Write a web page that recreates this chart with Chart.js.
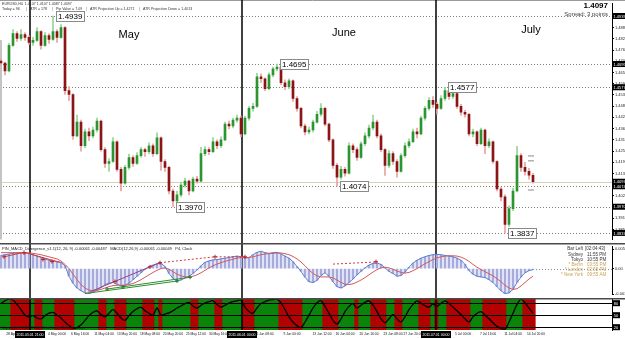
<!DOCTYPE html>
<html>
<head>
<meta charset="utf-8">
<script src="https://cdn.jsdelivr.net/npm/chart.js@4.4.1/dist/chart.umd.min.js"></script>
<style>
  html, body { margin: 0; padding: 0; background: #fff; }
  #wrap { position: relative; width: 625px; height: 339px; overflow: hidden; background: #fff; }
  canvas { position: absolute; left: 0; }
</style>
</head>
<body>
<div id="wrap">
  <canvas id="cPrice" width="625" height="243" style="top:0"></canvas>
  <canvas id="cMacd" width="625" height="55" style="top:243px"></canvas>
  <canvas id="cOsc" width="625" height="41" style="top:298px"></canvas>
</div>
<script>
// ---- EURUSD H4 candles, in pips: 4939 -> 1.4939 ----
const opens = [4710,4700,4660,4790,4850,4825,4845,4830,4805,4815,
  4860,4790,4840,4820,4860,4830,4880,4560,4540,4330,
  4400,4280,4350,4330,4360,4405,4260,4190,4200,4300,
  4160,4090,4170,4220,4190,4230,4260,4250,4280,4240,
  4320,4200,4170,4050,4000,4030,4080,4100,4050,4110,
  4100,4240,4260,4250,4300,4280,4310,4390,4380,4410,
  4420,4340,4420,4470,4480,4630,4620,4570,4640,4670,
  4680,4600,4580,4610,4520,4470,4380,4350,4360,4400,
  4440,4470,4390,4310,4180,4120,4160,4140,4280,4260,
  4220,4290,4330,4370,4400,4330,4260,4180,4240,4200,
  4150,4230,4280,4300,4350,4340,4420,4470,4510,4490,
  4470,4520,4560,4530,4545,4480,4450,4440,4340,4350,
  4290,4360,4280,4300,4200,4060,4020,3880,3960,4050,
  4230,4170,4150,4130];
const highs = [4720,4705,4800,4870,4860,4870,4855,4840,4830,4880,
  4865,4855,4850,4939,4870,4895,4885,4580,4545,4435,
  4410,4365,4370,4375,4420,4410,4270,4215,4321,4305,
  4170,4180,4238,4230,4245,4272,4268,4295,4290,4346,
  4325,4210,4175,4060,4050,4095,4115,4105,4120,4125,
  4272,4275,4270,4321,4310,4325,4400,4405,4420,4435,
  4430,4430,4480,4495,4648,4645,4625,4650,4680,4695,
  4685,4615,4620,4615,4530,4475,4390,4375,4410,4455,
  4494,4475,4395,4315,4190,4175,4170,4295,4290,4270,
  4300,4345,4385,4435,4410,4340,4265,4255,4250,4210,
  4240,4295,4315,4365,4370,4430,4480,4525,4530,4500,
  4535,4577,4565,4560,4550,4490,4460,4445,4365,4355,
  4370,4365,4315,4305,4205,4070,4030,3975,4065,4277,
  4240,4195,4165,4140];
const lows = [4690,4640,4655,4785,4810,4815,4815,4795,4790,4810,
  4770,4785,4800,4815,4805,4825,4540,4509,4312,4325,
  4252,4270,4305,4320,4350,4252,4170,4149,4195,4150,
  4050,4085,4160,4175,4185,4220,4225,4240,4225,4235,
  4154,4150,4035,3970,3990,4020,4070,4030,4045,4090,
  4095,4230,4235,4245,4265,4270,4305,4365,4370,4400,
  4326,4335,4410,4455,4475,4600,4559,4565,4630,4660,
  4590,4565,4570,4505,4455,4370,4335,4340,4350,4395,
  4430,4380,4300,4165,4074,4110,4125,4135,4245,4205,
  4215,4280,4320,4360,4320,4250,4129,4170,4185,4120,
  4145,4220,4270,4295,4320,4335,4410,4460,4475,4440,
  4465,4510,4515,4520,4470,4435,4425,4330,4325,4280,
  4285,4240,4270,4190,4050,4000,3837,3870,3950,4045,
  4150,4130,4110,4090];
const closes = [4700,4660,4790,4850,4825,4845,4830,4805,4815,4860,
  4790,4840,4820,4860,4830,4880,4560,4540,4330,4400,
  4280,4350,4330,4360,4405,4260,4190,4200,4300,4160,
  4090,4170,4220,4190,4230,4260,4250,4280,4240,4320,
  4200,4170,4050,4000,4030,4080,4100,4050,4110,4100,
  4240,4260,4250,4300,4280,4310,4390,4380,4410,4420,
  4340,4420,4470,4480,4630,4620,4570,4640,4670,4680,
  4600,4580,4610,4520,4470,4380,4350,4360,4400,4440,
  4470,4390,4310,4180,4120,4160,4140,4280,4260,4220,
  4290,4330,4370,4400,4330,4260,4180,4240,4200,4150,
  4230,4280,4300,4350,4340,4420,4470,4510,4490,4470,
  4520,4560,4530,4545,4480,4450,4440,4340,4350,4290,
  4360,4280,4300,4200,4060,4020,3880,3960,4050,4230,
  4170,4150,4130,4097];

const priceTicks = [1.4880, 1.4823, 1.4766, 1.4709, 1.4652, 1.4595, 1.4538, 1.4481, 1.4424,
  1.4367, 1.4310, 1.4253, 1.4196, 1.4139, 1.4082, 1.4025, 1.3911, 1.3854];
const swingLevels = [1.4939, 1.4695, 1.4577, 1.4074, 1.3970, 1.3837];
const swingIdx = [13, 69, 111, 84, 43, 126];
const lastPrice = 1.4097;
const atrMarks = [1.4228, 1.4203, 1.4055];
const months = ['May', 'June', 'July'];
const monthSepIdx = [7.25, 60.25, 108.75];
const monthStamps = ['2011.05.01 21:00', '2011.06.01 00:00', '2011.07.01 00:00'];

// ---- MACD panel, in units of 0.0001 ----
const macdHist = [38,40,42,44,45,46,46,44,40,36,
  32,28,24,22,20,18,8,-22,-42,-56,
  -64,-70,-72,-68,-62,-55,-46,-42,-40,-45,
  -50,-48,-42,-32,-22,-12,-2,5,10,14,
  15,6,-14,-28,-35,-33,-27,-22,-14,-4,
  8,18,22,25,26,28,30,32,34,36,
  34,30,32,40,47,50,46,44,46,47,
  42,36,30,20,6,-8,-25,-38,-40,-34,
  -20,-12,-22,-38,-52,-56,-50,-40,-30,-18,
  -8,2,10,15,16,12,2,-8,-14,-22,
  -20,-10,4,16,24,30,34,38,40,41,
  40,38,36,34,30,24,12,-6,-16,-22,
  -24,-26,-32,-40,-52,-64,-72,-70,-60,-40,
  -24,-12,-6,-3];
const macdSignal = [46,46,46,46,46,46,46,45,44,42,
  40,37,34,31,28,22,12,0,-16,-32,
  -46,-56,-62,-64,-63,-60,-56,-52,-49,-48,
  -48,-48,-46,-43,-38,-32,-25,-18,-11,-5,
  0,2,-2,-9,-16,-21,-24,-24,-22,-18,
  -12,-5,2,8,13,17,21,24,27,30,
  32,32,32,34,37,40,42,43,44,45,
  45,43,40,35,28,19,8,-4,-14,-21,
  -24,-24,-24,-27,-33,-40,-45,-46,-44,-39,
  -33,-26,-18,-10,-3,2,4,2,-2,-7,
  -11,-13,-11,-6,0,7,14,20,26,31,
  34,36,37,37,36,33,28,21,12,4,
  -3,-9,-15,-21,-29,-38,-48,-56,-60,-58,
  -50,-40,-30,-22];
const macdAxisVals = [55.7, 0, -73.4];
const macdAxisText = ['0.00557', '0.00', '-0.00734'];
const divGreenA = [{x: 21, y: -72}, {x: 44, y: -36}];
const divGreenB = [{x: 26.5, y: -59}, {x: 47.25, y: -25}];
const divPurple = [{x: 22.25, y: -67}, {x: 39.75, y: 17}];
const divRedDot = [{x: 39.75, y: 17}, {x: 53.5, y: 34}, {x: 61, y: 34}];
const divRedTop = [{x: 0.75, y: 34}, {x: 5.75, y: 47}, {x: 14.75, y: 18}];
const divRedJun = [{x: 83, y: 13}, {x: 93.75, y: 19}];
const divGreenMarks = [{x: 26.5, y: -59}, {x: 30.5, y: -53}, {x: 44, y: -36}, {x: 47.25, y: -25}];
const divRedMarks = [{x: 0.75, y: 34}, {x: 5.75, y: 45}, {x: 10.5, y: 26}, {x: 12.75, y: 20},
  {x: 28.5, y: -37}, {x: 37.25, y: 5}, {x: 39.75, y: 17}, {x: 53.5, y: 34}, {x: 61, y: 34}, {x: 93.75, y: 20}];
const clockRows = [['Sydney', '11:55 PM'], ['Tokyo', '10:55 PM'], ['* Berlin', '03:55 PM'],
  ['* London', '02:55 PM'], ['* New York', '09:55 AM']];

// ---- bottom oscillator ----
const oscValues = [79,86,90,88,77,64,50,46,49,43,
  41,49,55,57,50,43,33,24,18,19,
  26,37,49,57,61,52,46,55,64,55,
  43,37,49,59,66,70,61,55,50,68,
  50,53,56,61,68,73,79,82,73,68,
  75,80,84,86,77,70,75,80,84,86,
  88,70,59,55,68,79,84,88,89,90,
  81,64,46,33,24,19,33,50,68,81,
  86,72,55,37,28,41,59,72,79,68,
  75,82,86,75,59,41,31,41,52,41,
  33,46,64,77,86,80,74,70,78,72,
  80,86,79,70,61,52,41,33,46,55,
  59,50,41,31,22,17,15,33,55,77,
  90,81,68,55];
const oscBands = 'GGGRRRRRGR' + 'RGGGRRRRRG' + 'GGGGGRRGGR' + 'RRGGGGRRRG' + 'RGGGGGGGRR' +
  'GGGGRRGGGG' + 'GRRRGGGGGG' + 'RRRRRRGGGG' + 'GRRRRGGGGR' + 'GGGRRRRGGR' +
  'RGGGGRRRGR' + 'GGRRRRRRGG' + 'GRRRRRRGGG' + 'GRRR';
const oscLevels = [80, 50, 20];

const timeTickIdx = [3.5, 14, 19.75, 25.75, 31.5, 37.25, 43, 48.75, 54.5, 66, 72.75, 80.25,
  86, 92, 98, 103, 115.5, 121.75, 128, 133.75];
const timeTickLabels = ['28 Apr 2011', '4 May 00:00', '6 May 16:00', '11 May 04:00', '13 May 20:00',
  '18 May 08:00', '20 May 20:00', '25 May 12:00', '30 May 16:00', '6 Jun 08:00', '9 Jun 00:00',
  '13 Jun 12:00', '16 Jun 04:00', '20 Jun 16:00', '23 Jun 08:00', '27 Jun 20:00', '5 Jul 00:00',
  '7 Jul 16:00', '11 Jul 04:00', '14 Jul 20:00'];

// ------------------------------------------------------------
const FONT = '"Liberation Sans", Arial, sans-serif';
Chart.defaults.font.family = FONT;
const px = v => 1 + v / 10000;
const idx = opens.map((_, i) => i);
const isUp = i => closes[i] >= opens[i];
const XMIN = -0.25, XMAX = 152.75;
const xHidden = { type: 'linear', min: XMIN, max: XMAX, offset: false, display: false };
const base = {
  responsive: false, animation: false, devicePixelRatio: 1,
  layout: { padding: 0, autoPadding: false },
  plugins: { legend: { display: false }, tooltip: { enabled: false } }
};

function hline(ctx, x1, x2, y) { ctx.beginPath(); ctx.moveTo(x1, y); ctx.lineTo(x2, y); ctx.stroke(); }
function vline(ctx, x, y1, y2) { ctx.beginPath(); ctx.moveTo(x, y1); ctx.lineTo(x, y2); ctx.stroke(); }
function text(ctx, s, x, y, size, color, align, weight) {
  ctx.font = (weight || '') + ' ' + size + 'px ' + FONT;
  ctx.fillStyle = color; ctx.textAlign = align || 'left'; ctx.textBaseline = 'alphabetic';
  ctx.fillText(s, x, y);
}
function drawSeparators(chart, top, bottom) {
  const ctx = chart.ctx, x = chart.scales.x;
  ctx.save(); ctx.strokeStyle = '#000'; ctx.lineWidth = 1.5;
  monthSepIdx.forEach(v => vline(ctx, Math.round(x.getPixelForValue(v)), top, bottom));
  ctx.restore();
}

// ---------------- price panel ----------------
const priceDecor = {
  id: 'priceDecor',
  beforeDatasetsDraw(chart) {
    const { ctx, chartArea: a, scales: { y } } = chart;
    ctx.save();
    ctx.strokeStyle = '#7c7c7c'; ctx.lineWidth = 1; ctx.setLineDash([1, 2]);
    swingLevels.forEach(v => hline(ctx, a.left, a.right, Math.round(y.getPixelForValue(v)) + 0.5));
    ctx.setLineDash([]);
    ctx.strokeStyle = '#d8d1b2';
    hline(ctx, a.left, a.right, Math.round(y.getPixelForValue(lastPrice)) + 0.5);
    ctx.strokeStyle = '#9a9a9a';
    hline(ctx, 0, 625, 0.5);
    ctx.strokeStyle = '#c4c4c4'; ctx.lineWidth = 2;
    vline(ctx, 1, 40, a.bottom);
    ctx.restore();
    drawSeparators(chart, 0, chart.height);
  },
  afterDraw(chart) {
    const { ctx, chartArea: a, scales: { x, y } } = chart;
    ctx.save();
    // month names
    [[129, 38], [344, 36], [531, 33]].forEach((p, k) => text(ctx, months[k], p[0], p[1], 11, '#000', 'center'));
    // swing labels
    swingLevels.forEach((v, k) => {
      const yy = Math.round(y.getPixelForValue(v));
      const xx = Math.round(x.getPixelForValue(swingIdx[k])) + 3;
      const s = v.toFixed(4);
      ctx.font = '8px ' + FONT;
      const w = Math.ceil(ctx.measureText(s).width) + 3;
      ctx.fillStyle = '#fff'; ctx.fillRect(xx, yy - 5, w, 10);
      ctx.strokeStyle = '#8a8a8a'; ctx.lineWidth = 1; ctx.strokeRect(xx + 0.5, yy - 4.5, w, 10);
      text(ctx, s, xx + 2, yy + 3, 8, '#000');
    });
    // price axis marks
    swingLevels.concat([lastPrice]).forEach(v => {
      const yy = y.getPixelForValue(v);
      ctx.fillStyle = '#000'; ctx.fillRect(a.right + 1, yy - 3, 12, 6);
      text(ctx, v.toFixed(4), a.right + 1.5, yy + 1.6, 4, '#fff');
    });
    // header
    text(ctx, 'EURUSD,H4  1.4107 1.4107 1.4087 1.4097', 2, 4.5, 3.6, '#333');
    text(ctx, 'Today = 96', 2, 9.5, 3.6, '#333');
    text(ctx, 'ATR = 178', 30, 9.5, 3.6, '#333');
    text(ctx, 'Pip Value = 7.09', 56, 9.5, 3.6, '#333');
    text(ctx, 'ATR Projection Up = 1.4271', 90, 9.5, 3.6, '#333');
    text(ctx, 'ATR Projection Down = 1.4013', 143, 9.5, 3.6, '#333');
    [26, 52, 86, 139].forEach(p => text(ctx, '|', p, 9.5, 3.6, '#555'));
    // top right
    text(ctx, lastPrice.toFixed(4), 608, 8, 8, '#000', 'right', 'bold');
    text(ctx, 'Spread: 3 points', 608, 16, 6, '#444', 'right');
    ctx.restore();
  }
};

new Chart(document.getElementById('cPrice'), {
  type: 'bar',
  data: {
    datasets: [
      { label: 'wick', data: idx.map(i => ({ x: i, y: [px(lows[i]), px(highs[i])] })),
        backgroundColor: idx.map(i => isUp(i) ? '#98d498' : '#e4a4a4'),
        barThickness: 1, grouped: false, order: 2 },
      { label: 'body', data: idx.map(i => ({ x: i, y: [px(opens[i]), px(closes[i])] })),
        backgroundColor: idx.map(i => isUp(i) ? '#2a962f' : '#8c1414'),
        barThickness: 2, minBarLength: 1, grouped: false, order: 1 },
      { type: 'line', label: 'atr', data: atrMarks.map(v => ({ x: 132.5, y: v })), showLine: false,
        pointStyle: 'line', pointRadius: 3, borderColor: '#8a8a8a', borderWidth: 1, order: 0 }
    ]
  },
  options: Object.assign({}, base, {
    scales: {
      x: xHidden,
      y: {
        position: 'right', min: 1.3803, max: 1.5003,
        afterFit: a => { a.width = 13; },
        afterBuildTicks: a => { a.ticks = priceTicks.map(v => ({ value: v })); },
        ticks: { autoSkip: false, font: { size: 4 }, color: '#222', padding: 1, callback: v => v.toFixed(4) },
        grid: { drawOnChartArea: false, drawTicks: true, tickLength: 2, color: '#000' },
        border: { color: '#000' }
      }
    }
  }),
  plugins: [priceDecor]
});

// ---------------- MACD panel ----------------
const macdDecor = {
  id: 'macdDecor',
  beforeDatasetsDraw(chart) {
    const { ctx, chartArea: a, scales: { x, y } } = chart;
    ctx.save();
    ctx.strokeStyle = '#8a8a8a'; ctx.lineWidth = 1; ctx.setLineDash([1, 2]);
    hline(ctx, x.getPixelForValue(idx.length - 1), a.right, Math.round(y.getPixelForValue(0)) + 0.5);
    ctx.restore();
    drawSeparators(chart, 0, chart.height);
  },
  afterDraw(chart) {
    const { ctx } = chart;
    ctx.save();
    ctx.strokeStyle = '#4a4a4a'; ctx.lineWidth = 1.5;
    hline(ctx, 0, 625, 0.75);
    text(ctx, 'PIN_MACD_Divergence_v1.1(12, 26, 9) -0.00061 -0.00487   MACD(12,26,9) -0.00061 -0.00049   P4, Clock',
      2, 7, 4, '#222');
    text(ctx, 'Bar Left', 583, 7, 4.5, '#333', 'right');
    text(ctx, '[02:04:43]', 585, 7, 4.5, '#333');
    clockRows.forEach((r, k) => {
      const c = k < 2 ? '#333' : '#c9a257';
      text(ctx, r[0], 583, 13 + k * 5, 4.5, c, 'right');
      text(ctx, r[1], 587, 13 + k * 5, 4.5, c);
    });
    ctx.restore();
  }
};

const lineDs = (data, color, dash, order) => ({
  type: 'line', data, borderColor: color, borderWidth: 1, borderDash: dash || [],
  pointRadius: 0, tension: 0, order
});

new Chart(document.getElementById('cMacd'), {
  type: 'bar',
  data: {
    datasets: [
      { label: 'hist', data: idx.map(i => ({ x: i, y: macdHist[i] })), backgroundColor: '#a6abde',
        barThickness: 2, grouped: false, order: 9 },
      Object.assign(lineDs(idx.map(i => ({ x: i, y: macdHist[i] })), '#5b7fd2', null, 8), { label: 'macd' }),
      Object.assign(lineDs(idx.map(i => ({ x: i, y: macdSignal[i] })), '#d45a5a', null, 7), { label: 'signal' }),
      lineDs(divGreenA, '#2f8f2f', null, 6),
      lineDs(divGreenB, '#2f8f2f', null, 6),
      lineDs(divPurple, '#9b3f86', null, 6),
      lineDs(divRedDot, '#d43a3a', [2, 2], 6),
      lineDs(divRedTop, '#d43a3a', null, 6),
      lineDs(divRedJun, '#d43a3a', [2, 2], 6),
      { type: 'line', data: divGreenMarks, showLine: false, pointStyle: 'cross', pointRadius: 2,
        borderColor: '#1f7a1f', borderWidth: 1, order: 1 },
      { type: 'line', data: divRedMarks, showLine: false, pointStyle: 'cross', pointRadius: 2,
        borderColor: '#c81e1e', borderWidth: 1, order: 1 }
    ]
  },
  options: Object.assign({}, base, {
    scales: {
      x: xHidden,
      y: {
        position: 'right', min: -75, max: 64,
        afterFit: a => { a.width = 13; },
        afterBuildTicks: a => { a.ticks = macdAxisVals.map(v => ({ value: v })); },
        ticks: { autoSkip: false, font: { size: 4 }, color: '#222', padding: 1,
          callback: (v, k) => macdAxisText[k] },
        grid: { drawOnChartArea: false, drawTicks: true, tickLength: 2, color: '#000' },
        border: { color: '#000' }
      }
    }
  }),
  plugins: [macdDecor]
});

// ---------------- oscillator panel ----------------
const OSC_MIN = 13, OSC_MAX = 90.5;
const oscDecor = {
  id: 'oscDecor',
  afterDatasetsDraw(chart) {
    const { ctx, chartArea: a, scales: { y } } = chart;
    ctx.save();
    ctx.strokeStyle = '#000'; ctx.lineWidth = 1;
    oscLevels.forEach(v => hline(ctx, a.left, a.right, Math.round(y.getPixelForValue(v)) + 0.5));
    ctx.restore();
    drawSeparators(chart, 0, a.bottom);
  },
  afterDraw(chart) {
    const { ctx, chartArea: a, scales: { x, y } } = chart;
    ctx.save();
    ctx.strokeStyle = '#4a4a4a'; ctx.lineWidth = 1.5;
    hline(ctx, 0, 625, 0.75);
    text(ctx, 'Copyright \u00a9 2005-2011, MetaQuotes Software Corp.', 2, a.bottom - 1.5, 3.6, '#1a1a1a');
    oscLevels.forEach(v => {
      const yy = y.getPixelForValue(v);
      ctx.fillStyle = '#000'; ctx.fillRect(a.right + 1, yy - 3, 7, 6);
      text(ctx, String(v), a.right + 1.8, yy + 1.6, 4, '#fff');
    });
    monthSepIdx.forEach((v, k) => {
      const cx = x.getPixelForValue(v);
      ctx.font = '3.5px ' + FONT;
      const w = ctx.measureText(monthStamps[k]).width + 3;
      ctx.fillStyle = '#000'; ctx.fillRect(Math.round(cx - w / 2), a.bottom + 1, Math.ceil(w), 7);
      text(ctx, monthStamps[k], cx, a.bottom + 6, 3.5, '#fff', 'center');
    });
    ctx.restore();
  }
};

new Chart(document.getElementById('cOsc'), {
  type: 'bar',
  data: {
    datasets: [
      { label: 'bands', data: idx.map(i => ({ x: i, y: [OSC_MIN, OSC_MAX] })),
        backgroundColor: idx.map(i => oscBands[i] === 'G' ? '#0b840b' : '#b20202'),
        barThickness: 4.6, grouped: false, order: 3 },
      { type: 'line', label: 'osc', data: idx.map(i => ({ x: i, y: oscValues[i] })),
        borderColor: '#000', borderWidth: 1.3, pointRadius: 0, tension: 0.3, order: 1 }
    ]
  },
  options: Object.assign({}, base, {
    layout: { padding: { top: 1, left: 0, right: 0, bottom: 0 }, autoPadding: false },
    scales: {
      x: {
        type: 'linear', min: XMIN, max: XMAX, offset: false,
        afterFit: a => { a.height = 9; },
        afterBuildTicks: a => { a.ticks = timeTickIdx.map(v => ({ value: v })); },
        ticks: { autoSkip: false, maxRotation: 0, font: { size: 3.3 }, color: '#111', padding: 2,
          callback: (v, k) => timeTickLabels[k] },
        grid: { display: false, drawTicks: false },
        border: { display: false }
      },
      y: {
        position: 'right', min: OSC_MIN, max: OSC_MAX,
        afterFit: a => { a.width = 13; },
        ticks: { display: false },
        grid: { display: false, drawTicks: false },
        border: { color: '#000' }
      }
    }
  }),
  plugins: [oscDecor]
});
</script>
</body>
</html>
